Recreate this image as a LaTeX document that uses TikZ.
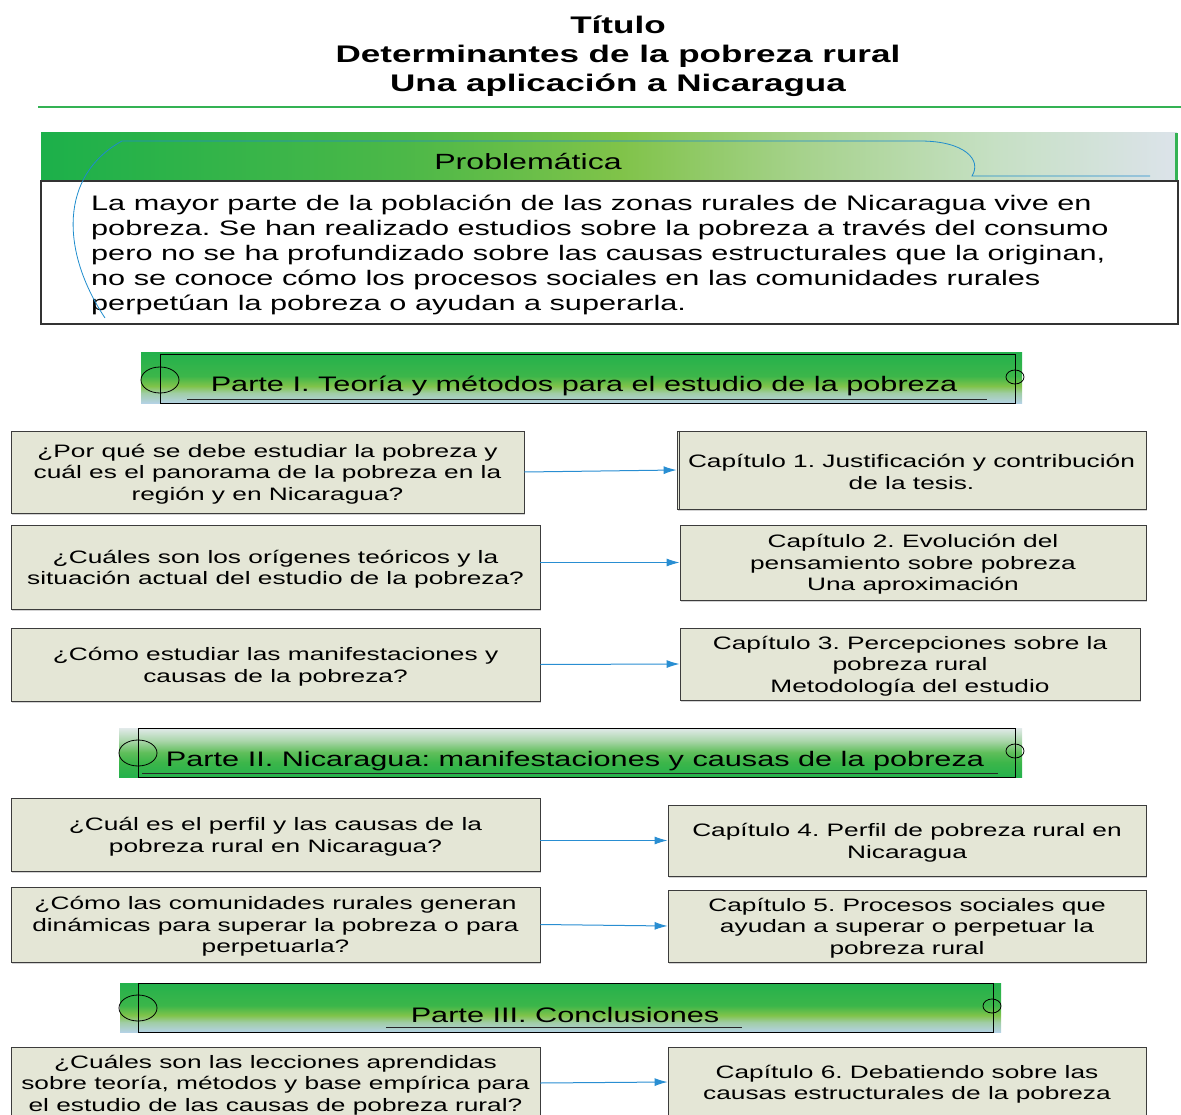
\documentclass[tikz,border=0pt]{standalone}
\usepackage{fontspec}
\setmainfont{Liberation Sans}[FakeStretch=1.46]
\frenchspacing
\usetikzlibrary{arrows.meta,shadows}

\definecolor{titlegreen}{RGB}{52,178,84}
\definecolor{boxfill}{RGB}{228,230,214}
\definecolor{boxline}{RGB}{60,60,60}
\definecolor{arrowblue}{RGB}{41,142,210}
\definecolor{curveblue}{RGB}{30,140,205}
% colours of the shaded bands
\definecolor{gA}{RGB}{28,176,74}
\definecolor{gA2}{RGB}{76,184,72}
\definecolor{gB}{RGB}{128,195,73}
\definecolor{gC}{RGB}{166,210,140}
\definecolor{gC2}{RGB}{198,224,196}
\definecolor{gD}{RGB}{220,227,234}
\definecolor{bGreen}{RGB}{36,177,76}
\definecolor{bGreen2}{RGB}{60,182,74}
\definecolor{bLime}{RGB}{128,195,74}
\definecolor{bPale}{RGB}{160,205,165}
\definecolor{bBlue}{RGB}{180,210,228}
\definecolor{bGrey}{RGB}{226,234,234}
\definecolor{bMint}{RGB}{170,214,170}
\definecolor{bMid}{RGB}{95,190,90}

% horizontal band behind "Problemática"
\pgfdeclarehorizontalshading{probband}{100bp}{color(0bp)=(gA); color(25bp)=(gA);
  color(41bp)=(gA2); color(50.5bp)=(gB); color(58.5bp)=(gC); color(67bp)=(gC2);
  color(75bp)=(gD); color(100bp)=(gD)}
% section bands: green on top, pale blue at the bottom
\pgfdeclareverticalshading{greendown}{100bp}{color(0bp)=(bBlue); color(25bp)=(bBlue);
  color(35bp)=(bPale); color(42bp)=(bLime); color(52bp)=(bGreen2);
  color(75bp)=(bGreen); color(100bp)=(bGreen)}
% section band: pale on top, green at the bottom
\pgfdeclareverticalshading{greenup}{100bp}{color(0bp)=(bGreen); color(25bp)=(bGreen);
  color(40bp)=(bGreen2); color(50bp)=(bMid); color(62bp)=(bMint);
  color(75bp)=(bGrey); color(100bp)=(bGrey)}

\newcommand\boxfont{\fontsize{18}{21.5}\selectfont}
% taller first line, so the block of text sits a little lower in its box
\newcommand\tp{\rule{0pt}{17.5pt}}

\tikzset{
  qbox/.style={draw=boxline, fill=boxfill, line width=0.8pt, align=center,
    inner sep=0pt, font=\boxfont,
    drop shadow={shadow xshift=1.2pt, shadow yshift=-1.5pt, opacity=0.35}},
  flow/.style={draw=arrowblue, line width=1pt,
    -{Latex[length=13pt,width=8pt]}},
  bandframe/.style={draw=black, line width=0.8pt},
  bandline/.style={draw=black!85, line width=1pt},
  bandtitle/.style={font=\fontsize{21}{25}\selectfont, inner sep=0pt},
}

\begin{document}
\begin{tikzpicture}[x=1pt,y=-1pt]
\useasboundingbox (0,0) rectangle (1181,1115);
\clip (0,0) rectangle (1181,1115);

% ---------- title ----------
\node[align=center, font=\bfseries\fontsize{24}{29}\selectfont, inner sep=0pt]
  (title) at (618,56) {Título\\Determinantes de la pobreza rural\\Una aplicación a Nicaragua};
\draw[titlegreen, line width=2pt] (38,107) -- (1181,107);

% ---------- problem statement ----------
\path[shading=probband] (41,133) rectangle (1177,181);
\fill[titlegreen] (1175,133) rectangle (1178,181);
\draw[draw=black!80, line width=1.2pt] (41,181) rectangle (1178,324);
\node[font=\fontsize{22}{26}\selectfont, inner sep=0pt] (probhead) at (528,162) {Problemática};
\node[align=left, anchor=west, font=\fontsize{21}{25}\selectfont, inner sep=0pt] (probtext) at (91,255)
  {La mayor parte de la población de las zonas rurales de Nicaragua vive en\\
   pobreza. Se han realizado estudios sobre la pobreza a través del consumo\\
   pero no se ha profundizado sobre las causas estructurales que la originan,\\
   no se conoce cómo los procesos sociales en las comunidades rurales\\
   perpetúan la pobreza o ayudan a superarla.};
\draw[curveblue, line width=0.8pt] (105,318) .. controls (60,250) and (60,175) .. (122,141)
  -- (920,141) .. controls (965,141) and (982,160) .. (972,176) -- (1150,176);

% ---------- Parte I ----------
\path[shading=greendown] (141,353) rectangle (1022,403);
\draw[bandframe] (160,354) rectangle (1015,403);
\draw[bandframe] (160,380) ellipse [x radius=19, y radius=13];
\draw[bandframe] (1015,377) ellipse [x radius=9, y radius=7];
\draw[bandline] (187,399) -- (987,399);
\node[bandtitle] (part1) at (584,386) {Parte I. Teoría y métodos para el estudio de la pobreza};

% ---------- Parte II ----------
\path[shading=greenup] (119,728) rectangle (1022,777);
\draw[bandframe] (138,728) rectangle (1015,777);
\draw[bandframe] (138,753) ellipse [x radius=19, y radius=13];
\draw[bandframe] (1015,751) ellipse [x radius=9, y radius=7];
\draw[bandline] (142,773) -- (998,773);
\node[bandtitle] (part2) at (575,761) {Parte II. Nicaragua: manifestaciones y causas de la pobreza};

% ---------- Parte III ----------
\path[shading=greendown] (120,983) rectangle (1001,1032);
\draw[bandframe] (138,983) rectangle (993,1032);
\draw[bandframe] (138,1008) ellipse [x radius=19, y radius=13];
\draw[bandframe] (992,1006) ellipse [x radius=9, y radius=7];
\draw[bandline] (386,1027) -- (742,1027);
\node[bandtitle] (part3) at (565,1015) {Parte III. Conclusiones};

% ---------- questions ----------
\node[qbox, minimum width=513pt, minimum height=82pt] (q1) at (267.5,472)
  {\tp¿Por qué se debe estudiar la pobreza y\\cuál es el panorama de la pobreza en la\\región y en Nicaragua?};
\node[qbox, minimum width=529pt, minimum height=84pt] (q2) at (275.5,567)
  {\tp¿Cuáles son los orígenes teóricos y la\\situación actual del estudio de la pobreza?};
\node[qbox, minimum width=529pt, minimum height=73pt] (q3) at (275.5,664.5)
  {\tp¿Cómo estudiar las manifestaciones y\\causas de la pobreza?};
\node[qbox, minimum width=529pt, minimum height=73pt] (q4) at (275.5,834.5)
  {\tp¿Cuál es el perfil y las causas de la\\pobreza rural en Nicaragua?};
\node[qbox, minimum width=529pt, minimum height=75pt] (q5) at (275.5,924.5)
  {\tp¿Cómo las comunidades rurales generan\\dinámicas para superar la pobreza o para\\perpetuarla?};
\node[qbox, minimum width=529pt, minimum height=72pt] (q6) at (275.5,1083)
  {\tp¿Cuáles son las lecciones aprendidas\\sobre teoría, métodos y base empírica para\\el estudio de las causas de pobreza rural?};

% ---------- chapters ----------
\node[qbox, minimum width=469pt, minimum height=78pt] (c1) at (911.5,470)
  {\tp Capítulo 1. Justificación y contribución\\de la tesis.};
\draw[boxline, line width=0.8pt] ([xshift=3pt]c1.north west) -- ([xshift=3pt]c1.south west);
\node[qbox, minimum width=466pt, minimum height=75pt] (c2) at (913,562.5)
  {\tp Capítulo 2. Evolución del\\pensamiento sobre pobreza\\Una aproximación};
\node[qbox, minimum width=460pt, minimum height=72pt] (c3) at (910,664)
  {\tp Capítulo 3. Percepciones sobre la\\pobreza rural\\Metodología del estudio};
\node[qbox, minimum width=478pt, minimum height=71pt] (c4) at (907,840.5)
  {\tp Capítulo 4. Perfil de pobreza rural en\\Nicaragua};
\node[qbox, minimum width=478pt, minimum height=72pt] (c5) at (907,926)
  {\tp Capítulo 5. Procesos sociales que\\ayudan a superar o perpetuar la\\pobreza rural};
\node[qbox, minimum width=478pt, minimum height=70pt] (c6) at (907,1082)
  {\tp Capítulo 6. Debatiendo sobre las\\causas estructurales de la pobreza};

% ---------- links ----------
\draw[flow] (q1.east) -- (c1.west);
\draw[flow] (q2.east |- c2.west) -- (c2.west);
\draw[flow] (q3.east) -- (c3.west);
\draw[flow] (q4.east |- c4.west) -- (c4.west);
\draw[flow] (q5.east) -- (c5.west);
\draw[flow] (q6.east) -- (c6.west);
\end{tikzpicture}
\end{document}
